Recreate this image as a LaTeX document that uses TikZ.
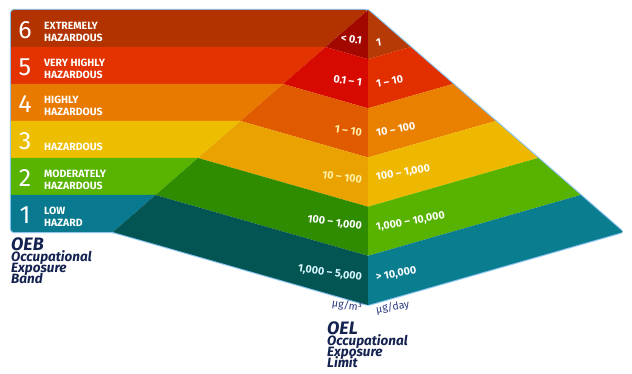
\documentclass[tikz,border=0pt]{standalone}
\usepackage{fontspec}
\setmainfont{Fira Sans}
\newcommand\mytightlines{\lineskiplimit -20pt\relax}
\definecolor{rectA}{HTML}{08798F}
\definecolor{rectB}{HTML}{58B400}
\definecolor{rectC}{HTML}{EDBE00}
\definecolor{rectD}{HTML}{E97A00}
\definecolor{rectE}{HTML}{E23300}
\definecolor{rectF}{HTML}{B23300}
\definecolor{lfA}{HTML}{035553}
\definecolor{lfB}{HTML}{2F8C00}
\definecolor{lfC}{HTML}{E9A200}
\definecolor{lfD}{HTML}{E05A00}
\definecolor{lfE}{HTML}{D60A00}
\definecolor{lfF}{HTML}{A20800}
\definecolor{rfA}{HTML}{0A7D8F}
\definecolor{rfB}{HTML}{57B300}
\definecolor{rfC}{HTML}{EFB800}
\definecolor{rfD}{HTML}{E98000}
\definecolor{rfE}{HTML}{E12F00}
\definecolor{rfF}{HTML}{B53A05}
\definecolor{glow}{HTML}{8CC4F2}
\definecolor{navy}{HTML}{14224F}
\definecolor{unitblue}{HTML}{2B3A80}
\definecolor{paleyellow}{HTML}{FFF2A8}
\definecolor{palecyan}{HTML}{D8F8FF}
\begin{document}
\begin{tikzpicture}[x=1pt,y=-1pt,
  bandnum/.style={text=white,font=\fontsize{25}{25}\selectfont,inner sep=0pt},
  bandlab/.style={text=white,font=\bfseries\fontsize{10.5}{12.5}\selectfont,align=left,anchor=west,inner sep=0pt},
  lval/.style={text=white,font=\bfseries\fontsize{10.8}{13}\selectfont,anchor=east,rotate=-8,inner sep=0pt},
  rval/.style={text=white,font=\bfseries\fontsize{10.8}{13}\selectfont,anchor=west,rotate=10,inner sep=0pt},
  unit/.style={text=unitblue,font=\fontsize{10.5}{12}\selectfont,inner sep=0pt},
  title/.style={text=navy,font=\bfseries\itshape\fontsize{13.5}{11}\selectfont\mytightlines,align=left,anchor=north west,inner sep=0pt}]
\useasboundingbox (0,0) rectangle (632,374);
% key points
\coordinate (apex) at (368,10);
\coordinate (l1) at (325.5,47);
\coordinate (l2) at (283,84);
\coordinate (l3) at (240.5,121);
\coordinate (l4) at (198,158);
\coordinate (l5) at (155.5,195);
\coordinate (l6) at (113,232);
\coordinate (c1) at (368,59.2);
\coordinate (c2) at (368,108.3);
\coordinate (c3) at (368,157.5);
\coordinate (c4) at (368,206.7);
\coordinate (c5) at (368,255.8);
\coordinate (c6) at (368,305);
\coordinate (e1) at (410.5,47);
\coordinate (e2) at (453,84);
\coordinate (e3) at (495.5,121);
\coordinate (e4) at (538,158);
\coordinate (e5) at (580.5,195);
\coordinate (e6) at (623,232);
\coordinate (k0) at (11,10);
\coordinate (k1) at (11,47);
\coordinate (k2) at (11,84);
\coordinate (k3) at (11,121);
\coordinate (k4) at (11,158);
\coordinate (k5) at (11,195);
\coordinate (k6) at (11,232);
% glow outline
\draw[glow,line width=2.2pt,rounded corners=3pt,line join=round] (k0) -- (apex) -- (e6) -- (c6) -- (l6) -- (k6) -- cycle;
% left rectangles
\fill[rectF,rounded corners=3pt] (k1) -- (k0) -- (apex) [sharp corners] -- (l1) -- cycle;
\fill[rectE] (k1) -- (l1) -- (l2) -- (k2) -- cycle;
\fill[rectD] (k2) -- (l2) -- (l3) -- (k3) -- cycle;
\fill[rectC] (k3) -- (l3) -- (l4) -- (k4) -- cycle;
\fill[rectB] (k4) -- (l4) -- (l5) -- (k5) -- cycle;
\fill[rectA,rounded corners=3pt] (l5) [sharp corners] -- (k5) [rounded corners=3pt] -- (k6) [sharp corners] -- (l6) -- cycle;
% left face
\fill[lfF] (apex) -- (c1) -- (l1) -- cycle;
\fill[lfE] (l1) -- (c1) -- (c2) -- (l2) -- cycle;
\fill[lfD] (l2) -- (c2) -- (c3) -- (l3) -- cycle;
\fill[lfC] (l3) -- (c3) -- (c4) -- (l4) -- cycle;
\fill[lfB] (l4) -- (c4) -- (c5) -- (l5) -- cycle;
\fill[lfA] (l5) -- (c5) -- (c6) -- (l6) -- cycle;
% right face
\fill[rfF] (apex) -- (e1) -- (c1) -- cycle;
\fill[rfE] (c1) -- (e1) -- (e2) -- (c2) -- cycle;
\fill[rfD] (c2) -- (e2) -- (e3) -- (c3) -- cycle;
\fill[rfC] (c3) -- (e3) -- (e4) -- (c4) -- cycle;
\fill[rfB] (c4) -- (e4) -- (e5) -- (c5) -- cycle;
\fill[rfA] (c5) -- (e5) -- (e6) -- (c6) -- cycle;
% band numbers and labels
\node[bandnum] (n6) at (25,30.5) {6};
\node[bandnum] (n5) at (25,67.5) {5};
\node[bandnum] (n4) at (25,104.5) {4};
\node[bandnum] (n3) at (25,141.5) {3};
\node[bandnum] (n2) at (25,178.5) {2};
\node[bandnum] (n1) at (25,215.5) {1};
\node[bandlab] (b6) at (44,32) {EXTREMELY\\HAZARDOUS};
\node[bandlab] (b5) at (44,69) {VERY HIGHLY\\HAZARDOUS};
\node[bandlab] (b4) at (44,106) {HIGHLY\\HAZARDOUS};
\node[bandlab] (b3) at (44,146.5) {HAZARDOUS};
\node[bandlab] (b2) at (44,180) {MODERATELY\\HAZARDOUS};
\node[bandlab] (b1) at (44,217) {LOW\\HAZARD};
% left face values
\node[lval] (v6l) at (362,41) {< 0.1};
\node[lval] (v5l) at (362,83) {0.1 – 1};
\node[lval,text=paleyellow] (v4l) at (362,133) {1 – 10};
\node[lval,text=paleyellow] (v3l) at (362,180) {10 – 100};
\node[lval] (v2l) at (362,227) {100 – 1,000};
\node[lval,text=palecyan] (v1l) at (362,278) {1,000 – 5,000};
% right face values
\node[rval] (v6r) at (376,43) {1};
\node[rval] (v5r) at (376,84) {1 – 10};
\node[rval] (v4r) at (376,133) {10 – 100};
\node[rval] (v3r) at (376,178) {100 – 1,000};
\node[rval] (v2r) at (376,228) {1,000 – 10,000};
\node[rval] (v1r) at (376,278) {> 10,000};
% units
\node[unit,anchor=east,rotate=-8] (u1) at (362,308) {μg/m³};
\node[unit,anchor=west,rotate=10] (u2) at (376,310) {μg/day};
% titles
\node[title] (oeb) at (11,238) {{\fontsize{18}{14}\selectfont OEB}\\Occupational\\Exposure\\Band};
\node[title] (oel) at (327,322) {{\fontsize{18}{14}\selectfont OEL}\\Occupational\\Exposure\\Limit};
\end{tikzpicture}
\end{document}
